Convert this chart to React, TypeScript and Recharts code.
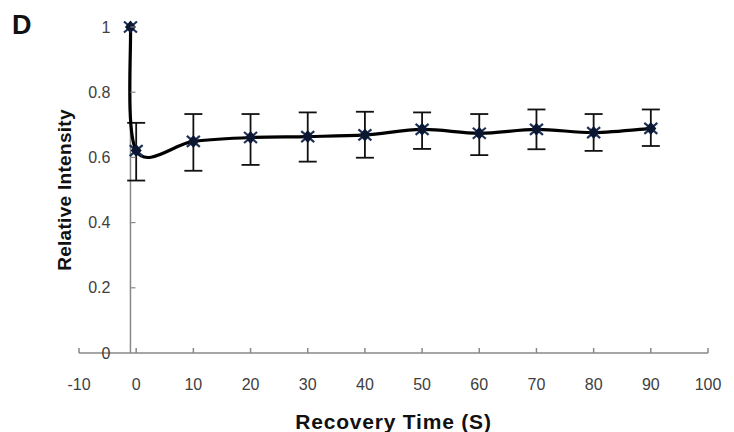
import React from 'react'
import { LineChart, Line, XAxis, YAxis, ReferenceLine, ErrorBar } from 'recharts'

// recovery time (s), mean relative intensity, and the error bar ends
const times = [-1, 0, 10, 20, 30, 40, 50, 60, 70, 80, 90]
const intensity = [1.0, 0.621, 0.649, 0.661, 0.664, 0.669, 0.686, 0.674, 0.686, 0.676, 0.689]
const upper = [null, 0.706, 0.733, 0.733, 0.738, 0.74, 0.738, 0.733, 0.747, 0.733, 0.747]
const lower = [null, 0.529, 0.559, 0.577, 0.587, 0.599, 0.626, 0.607, 0.625, 0.62, 0.635]

const xTicks = [-10, 0, 10, 20, 30, 40, 50, 60, 70, 80, 90, 100]
const yTicks = [0, 0.2, 0.4, 0.6, 0.8, 1]
const yAxisAt = -1

const data = times.map((t, i) => ({
  t,
  v: intensity[i],
  err: upper[i] == null ? null : [intensity[i] - (lower[i] as number), (upper[i] as number) - intensity[i]],
}))

const W = 734
const H = 432
const M = { top: 27, right: 26, bottom: 0, left: 50 }
const Y_W = 29
const X_H = 79
const plotLeft = M.left + Y_W
const plotW = W - plotLeft - M.right
const axisPx = plotLeft + ((yAxisAt - xTicks[0]) / (xTicks[xTicks.length - 1] - xTicks[0])) * plotW

const font = '"Liberation Sans", Arial, sans-serif'

// excel-like smoothing: cubic bezier with catmull-rom tangents
const excelSmooth = (ctx: any) => {
  let pts: number[][] = []
  return {
    areaStart() {},
    areaEnd() {},
    lineStart() { pts = [] },
    point(x: number, y: number) { pts.push([+x, +y]) },
    lineEnd() {
      if (!pts.length) return
      ctx.moveTo(pts[0][0], pts[0][1])
      for (let i = 0; i < pts.length - 1; i++) {
        const p0 = pts[i - 1] || pts[i]
        const p1 = pts[i]
        const p2 = pts[i + 1]
        const p3 = pts[i + 2] || pts[i + 1]
        ctx.bezierCurveTo(
          p1[0] + (p2[0] - p0[0]) / 6, p1[1] + (p2[1] - p0[1]) / 6,
          p2[0] - (p3[0] - p1[0]) / 6, p2[1] - (p3[1] - p1[1]) / 6,
          p2[0], p2[1]
        )
      }
    },
  }
}

const StarDot = (props: any) => {
  const { cx, cy } = props
  if (cx == null || cy == null) return null
  const r = 6.5
  return (
    <g>
      <line x1={cx - r} y1={cy - r + 1} x2={cx + r} y2={cy + r - 1} stroke="#1d3157" strokeWidth={2.2} />
      <line x1={cx - r} y1={cy + r - 1} x2={cx + r} y2={cy - r + 1} stroke="#1d3157" strokeWidth={2.2} />
      <polygon points={`${cx},${cy - r} ${cx + r - 1},${cy} ${cx},${cy + r} ${cx - r + 1},${cy}`} fill="#0b1630" />
    </g>
  )
}

const YTick = (props: any) => {
  const { y, payload } = props
  return (
    <g>
      {payload.value !== 0 && (
        <line x1={axisPx} x2={axisPx + 5} y1={y} y2={y} stroke="#888" strokeWidth={1.2} />
      )}
      <text x={axisPx - 20} y={y} textAnchor="end" dominantBaseline="central" fill="#404040" fontSize={16} fontFamily={font}>
        {payload.value}
      </text>
    </g>
  )
}

export default function App() {
  return (
    <div style={{ position: 'absolute', left: 0, top: 0, width: W, height: H, background: '#fff' }}>
      <div style={{ position: 'absolute', left: 12, top: 10, fontFamily: font, fontWeight: 'bold', fontSize: 27, color: '#111' }}>
        D
      </div>
      <LineChart width={W} height={H} data={data} margin={M}>
        <XAxis
          dataKey="t"
          type="number"
          domain={[-10, 100]}
          ticks={xTicks}
          interval={0}
          height={X_H}
          stroke="#888"
          strokeWidth={1.5}
          tickSize={-5}
          tickMargin={31}
          tick={{ fill: '#404040', fontSize: 16, fontFamily: font }}
          label={{ value: 'Recovery Time (S)', position: 'insideBottom', offset: 3, fill: '#111', fontSize: 21, fontWeight: 'bold', fontFamily: font, letterSpacing: 0.8 }}
        />
        <YAxis
          type="number"
          domain={[0, 1]}
          ticks={yTicks}
          width={Y_W}
          axisLine={false}
          tickLine={false}
          tick={<YTick />}
          label={{ value: 'Relative Intensity', angle: -90, position: 'center', fill: '#111', fontSize: 19, fontWeight: 'bold', fontFamily: font, letterSpacing: 0.3 }}
        />
        <ReferenceLine x={yAxisAt} stroke="#888" strokeWidth={1.5} />
        <Line
          dataKey="v"
          type={excelSmooth as any}
          stroke="#000"
          strokeWidth={3.2}
          dot={<StarDot />}
          activeDot={false}
          isAnimationActive={false}
        >
          <ErrorBar dataKey="err" direction="y" width={9} stroke="#111" strokeWidth={1.8} />
        </Line>
      </LineChart>
    </div>
  )
}
